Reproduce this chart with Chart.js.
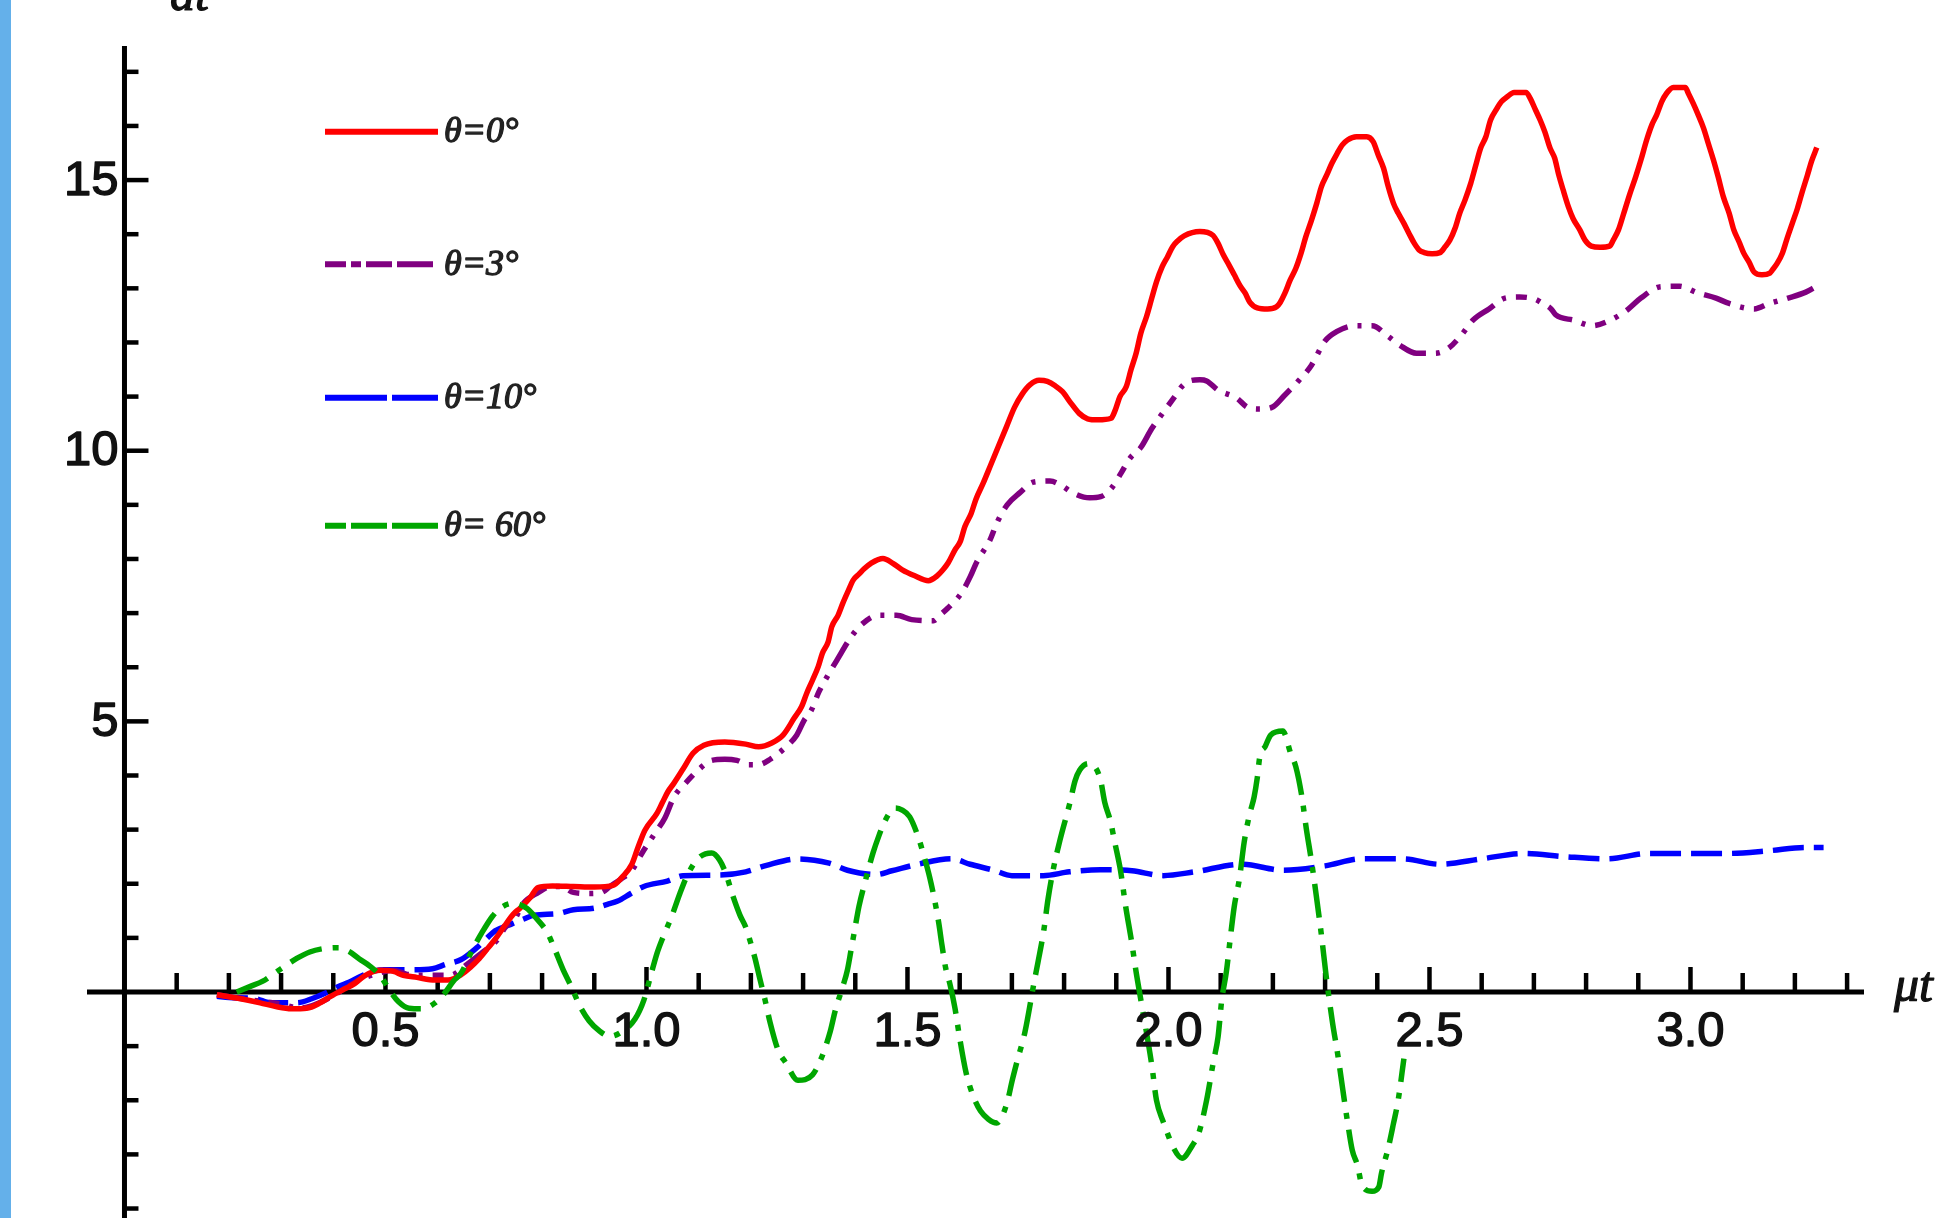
<!DOCTYPE html>
<html><head><meta charset="utf-8">
<script src="https://cdn.jsdelivr.net/npm/chart.js@4.4.1/dist/chart.umd.min.js"></script>
<style>
html,body{margin:0;padding:0;background:#fff;overflow:hidden;}
#wrap{position:relative;width:1948px;height:1218px;background:#fff;}
#band{position:absolute;left:0;top:0;width:11px;height:1218px;background:#64b0ea;}
canvas{position:absolute;left:0;top:0;}
</style></head><body>
<div id="wrap"><canvas id="c" width="1948" height="1218"></canvas><div id="band"></div></div>
<script>
// ---------- data ----------
const legendLabels = ['\u03B8=0\u00B0', '\u03B8=3\u00B0', '\u03B8=10\u00B0', '\u03B8= 60\u00B0'];
const xTickValues = [0.5, 1.0, 1.5, 2.0, 2.5, 3.0];
const xTickLabels = ['0.5', '1.0', '1.5', '2.0', '2.5', '3.0'];
const yTickValues = [5, 10, 15];
const yTickLabels = ['5', '10', '15'];
const xAxisLabel = '\u03BCt';
const yAxisLabel = 'dt';

const redT = [0.177,0.22,0.26,0.29,0.32,0.349,0.375,0.395,0.42,0.44,0.46,0.49,0.515,0.534,0.56,0.595,0.62,0.645,0.662,0.68,0.697,0.712,0.728,0.745,0.758,0.777,0.792,0.82,0.86,0.9,0.936,0.953,0.972,0.984,0.997,1.02,1.03,1.041,1.052,1.07,1.089,1.11,1.15,1.19,1.215,1.24,1.262,1.283,1.297,1.307,1.318,1.329,1.337,1.348,1.355,1.367,1.376,1.386,1.396,1.407,1.417,1.43,1.453,1.472,1.49,1.514,1.54,1.557,1.568,1.578,1.591,1.601,1.61,1.622,1.631,1.645,1.66,1.675,1.69,1.705,1.72,1.735,1.752,1.768,1.783,1.797,1.813,1.829,1.845,1.865,1.89,1.898,1.907,1.919,1.928,1.938,1.947,1.958,1.968,1.977,1.988,1.998,2.008,2.018,2.03,2.06,2.085,2.095,2.105,2.116,2.126,2.137,2.147,2.156,2.17,2.19,2.207,2.214,2.223,2.233,2.244,2.254,2.263,2.274,2.284,2.293,2.303,2.313,2.323,2.333,2.343,2.36,2.38,2.392,2.402,2.412,2.421,2.431,2.44,2.451,2.461,2.471,2.48,2.49,2.505,2.52,2.53,2.539,2.549,2.558,2.568,2.579,2.588,2.598,2.608,2.617,2.629,2.638,2.649,2.662,2.685,2.693,2.702,2.712,2.721,2.731,2.74,2.747,2.756,2.766,2.775,2.788,2.798,2.81,2.827,2.845,2.852,2.862,2.871,2.884,2.895,2.905,2.916,2.926,2.935,2.945,2.954,2.967,2.99,2.996,3.005,3.015,3.025,3.034,3.044,3.053,3.063,3.074,3.083,3.093,3.102,3.112,3.122,3.137,3.152,3.157,3.166,3.176,3.185,3.195,3.205,3.214,3.224,3.232,3.242];
const redV = [-0.05,-0.12,-0.2,-0.27,-0.31,-0.3,-0.2,-0.08,0.05,0.15,0.3,0.4,0.38,0.31,0.27,0.22,0.22,0.32,0.45,0.62,0.82,1.0,1.22,1.44,1.55,1.74,1.93,1.96,1.95,1.94,1.97,2.12,2.36,2.68,2.99,3.3,3.49,3.7,3.85,4.12,4.41,4.56,4.62,4.58,4.53,4.6,4.75,5.06,5.27,5.52,5.76,6.01,6.26,6.47,6.75,6.96,7.18,7.4,7.61,7.72,7.82,7.92,8.01,7.92,7.8,7.69,7.6,7.69,7.8,7.93,8.17,8.32,8.6,8.84,9.1,9.4,9.75,10.1,10.45,10.8,11.05,11.22,11.3,11.28,11.2,11.09,10.88,10.69,10.59,10.57,10.6,10.75,11.0,11.18,11.49,11.8,12.17,12.48,12.82,13.12,13.4,13.58,13.77,13.88,13.97,14.05,13.98,13.83,13.62,13.43,13.25,13.05,12.91,12.74,12.64,12.62,12.66,12.74,12.91,13.15,13.37,13.65,13.95,14.26,14.57,14.88,15.09,15.31,15.49,15.65,15.74,15.8,15.8,15.71,15.46,15.22,14.88,14.57,14.39,14.2,14.01,13.83,13.71,13.66,13.64,13.66,13.77,13.89,14.11,14.39,14.63,14.94,15.25,15.59,15.8,16.11,16.32,16.45,16.54,16.62,16.62,16.51,16.32,16.11,15.89,15.59,15.4,15.12,14.82,14.51,14.29,14.08,13.89,13.78,13.76,13.78,13.89,14.08,14.35,14.75,15.06,15.37,15.74,16.02,16.2,16.45,16.6,16.71,16.71,16.6,16.42,16.2,15.96,15.68,15.37,15.06,14.69,14.39,14.08,13.86,13.65,13.49,13.3,13.25,13.28,13.34,13.46,13.65,13.92,14.2,14.48,14.78,15.09,15.35,15.6];

const purpleT = [0.177,0.21,0.26,0.298,0.336,0.36,0.39,0.42,0.445,0.48,0.515,0.54,0.57,0.6,0.624,0.656,0.684,0.713,0.73,0.748,0.761,0.793,0.818,0.837,0.86,0.89,0.914,0.93,0.95,0.972,0.991,1.016,1.035,1.053,1.074,1.099,1.125,1.15,1.173,1.195,1.214,1.237,1.265,1.288,1.302,1.316,1.33,1.347,1.366,1.392,1.411,1.444,1.479,1.508,1.55,1.562,1.577,1.604,1.62,1.633,1.658,1.671,1.691,1.716,1.741,1.773,1.798,1.815,1.849,1.87,1.89,1.91,1.926,1.947,1.968,1.987,2.012,2.025,2.041,2.06,2.073,2.095,2.131,2.152,2.175,2.198,2.223,2.249,2.274,2.3,2.322,2.357,2.39,2.421,2.443,2.475,2.511,2.536,2.563,2.583,2.614,2.645,2.673,2.702,2.717,2.733,2.742,2.777,2.811,2.846,2.88,2.905,2.943,2.979,3.013,3.049,3.074,3.122,3.151,3.187,3.221,3.24];
const purpleV = [-0.05,-0.1,-0.17,-0.22,-0.3,-0.25,-0.12,0.05,0.2,0.33,0.4,0.33,0.31,0.31,0.31,0.51,0.72,0.95,1.2,1.35,1.6,1.84,1.95,1.95,1.84,1.82,1.84,1.95,2.08,2.25,2.56,2.93,3.21,3.61,3.85,4.1,4.28,4.3,4.28,4.2,4.2,4.3,4.51,4.75,5.02,5.21,5.54,5.84,6.15,6.56,6.78,6.96,6.96,6.88,6.86,6.96,7.09,7.38,7.67,7.95,8.35,8.66,9.0,9.23,9.42,9.44,9.34,9.23,9.13,9.15,9.3,9.6,9.86,10.06,10.41,10.67,11.0,11.18,11.29,11.31,11.29,11.12,10.97,10.8,10.77,10.8,11.03,11.29,11.58,12.03,12.2,12.31,12.31,12.11,11.95,11.8,11.8,11.89,12.16,12.41,12.62,12.82,12.84,12.8,12.72,12.62,12.51,12.41,12.31,12.41,12.61,12.82,13.03,13.04,12.92,12.82,12.72,12.62,12.72,12.82,12.93,13.03];

const blueT = [0.177,0.2,0.25,0.28,0.33,0.36,0.39,0.41,0.43,0.455,0.475,0.5,0.55,0.59,0.615,0.645,0.675,0.695,0.71,0.74,0.765,0.785,0.83,0.86,0.9,0.925,0.945,0.97,0.995,1.04,1.07,1.14,1.19,1.23,1.29,1.35,1.385,1.44,1.47,1.52,1.585,1.62,1.665,1.7,1.76,1.81,1.87,1.93,1.99,2.05,2.14,2.22,2.3,2.37,2.45,2.52,2.6,2.68,2.76,2.84,2.92,3.0,3.07,3.15,3.22,3.255];
const blueV = [-0.08,-0.1,-0.12,-0.2,-0.2,-0.12,0.0,0.1,0.18,0.3,0.38,0.41,0.41,0.43,0.51,0.6,0.82,1.0,1.13,1.25,1.35,1.42,1.45,1.52,1.55,1.62,1.68,1.82,1.95,2.05,2.15,2.16,2.22,2.34,2.46,2.38,2.25,2.17,2.24,2.36,2.46,2.36,2.25,2.15,2.15,2.22,2.26,2.24,2.15,2.22,2.36,2.25,2.33,2.46,2.46,2.36,2.46,2.56,2.5,2.46,2.56,2.56,2.56,2.61,2.67,2.67];

const greenT = [0.215,0.24,0.265,0.285,0.3,0.33,0.355,0.38,0.41,0.43,0.45,0.47,0.49,0.51,0.525,0.545,0.57,0.595,0.615,0.63,0.645,0.665,0.685,0.705,0.72,0.745,0.77,0.79,0.81,0.823,0.84,0.855,0.873,0.89,0.91,0.93,0.955,0.978,0.995,1.008,1.02,1.032,1.048,1.064,1.078,1.099,1.125,1.14,1.152,1.166,1.179,1.19,1.198,1.208,1.217,1.227,1.237,1.252,1.267,1.29,1.318,1.335,1.352,1.362,1.376,1.385,1.392,1.4,1.407,1.42,1.434,1.445,1.455,1.465,1.477,1.49,1.504,1.52,1.532,1.543,1.554,1.56,1.566,1.573,1.582,1.591,1.6,1.612,1.627,1.64,1.655,1.671,1.69,1.701,1.71,1.725,1.742,1.75,1.761,1.769,1.78,1.792,1.811,1.821,1.83,1.846,1.869,1.878,1.889,1.897,1.908,1.918,1.929,1.938,1.948,1.968,1.977,1.99,1.998,2.007,2.026,2.046,2.058,2.073,2.086,2.095,2.102,2.111,2.118,2.126,2.136,2.145,2.155,2.164,2.17,2.175,2.185,2.196,2.219,2.234,2.244,2.255,2.264,2.274,2.283,2.293,2.302,2.314,2.325,2.334,2.343,2.352,2.362,2.371,2.39,2.403,2.408,2.421,2.431,2.44,2.451];
const greenV = [0.0,0.1,0.2,0.33,0.43,0.62,0.74,0.8,0.82,0.75,0.61,0.48,0.3,0.0,-0.18,-0.3,-0.31,-0.2,0.0,0.2,0.35,0.75,1.1,1.4,1.55,1.64,1.55,1.35,1.1,0.82,0.42,0.12,-0.27,-0.53,-0.72,-0.82,-0.72,-0.5,-0.15,0.3,0.71,1.02,1.39,1.82,2.15,2.47,2.57,2.44,2.19,1.76,1.42,1.2,0.96,0.62,0.25,-0.14,-0.57,-1.07,-1.31,-1.63,-1.53,-1.22,-0.73,-0.33,0.1,0.41,0.78,1.21,1.58,2.08,2.57,2.88,3.12,3.3,3.4,3.36,3.24,2.88,2.5,2.1,1.6,1.27,0.87,0.45,0.12,-0.3,-0.85,-1.48,-1.95,-2.2,-2.35,-2.42,-2.07,-1.62,-1.28,-0.74,0.15,0.55,1.13,1.7,2.3,2.8,3.49,3.9,4.1,4.22,3.95,3.5,3.15,2.77,2.25,1.58,0.95,0.37,-0.2,-1.35,-2.0,-2.4,-2.61,-2.83,-3.07,-2.83,-2.61,-2.0,-1.29,-0.83,-0.15,0.38,0.96,1.58,2.1,2.77,3.27,3.6,3.95,4.35,4.53,4.75,4.82,4.41,4.16,3.64,3.02,2.41,1.79,1.05,0.3,-0.55,-1.2,-1.81,-2.4,-2.92,-3.2,-3.58,-3.68,-3.6,-3.35,-2.88,-2.43,-2.0,-1.23];

// ---------- scale extents ----------
const xMin = -0.0718, xMax = 3.3324;
const yMin = -4.175, yMax = 17.477;

const xy = (ts, vs) => ts.map((t, i) => ({x: t, y: vs[i]}));

const colors = ['#ff0000', '#800080', '#0000ff', '#00a600'];
const plotDash = [[], [28, 10, 4, 10, 11, 10, 4, 10], [31, 10], [34, 11, 6, 11]];
const legendDash = [[], [21, 5, 10, 5, 26, 5, 36, 5], [62, 5], [21, 5, 36, 5, 46, 5]];
const legendY = [131.7, 264.3, 397.7, 525.7];

function boldText(ctx, s, x, y, w) {
  ctx.lineWidth = w;
  ctx.strokeStyle = ctx.fillStyle;
  ctx.lineJoin = 'round';
  ctx.strokeText(s, x, y);
  ctx.fillText(s, x, y);
}

const axesPlugin = {
  id: 'axesPlugin',
  beforeDatasetsDraw(chart) {
    const {ctx, chartArea: a} = chart;
    const sx = chart.scales.x, sy = chart.scales.y;
    const x0 = sx.getPixelForValue(0), y0 = sy.getPixelForValue(0);
    ctx.save();
    ctx.strokeStyle = '#000';
    ctx.lineCap = 'butt';
    ctx.lineWidth = 5;
    ctx.beginPath(); ctx.moveTo(a.left, y0); ctx.lineTo(a.right, y0); ctx.stroke();
    ctx.beginPath(); ctx.moveTo(x0, a.top); ctx.lineTo(x0, a.bottom); ctx.stroke();
    ctx.lineWidth = 4.5;
    for (let k = 1; k <= 33; k++) {
      const px = sx.getPixelForValue(k / 10);
      const major = (k % 5 === 0);
      ctx.beginPath(); ctx.moveTo(px, y0 - 2); ctx.lineTo(px, y0 - (major ? 25 : 19)); ctx.stroke();
    }
    for (let k = -4; k <= 17; k++) {
      if (k === 0) continue;
      const py = sy.getPixelForValue(k);
      const major = (k % 5 === 0);
      ctx.beginPath(); ctx.moveTo(x0 + 2, py); ctx.lineTo(x0 + (major ? 24 : 14), py); ctx.stroke();
    }
    ctx.restore();
  },
  afterDraw(chart) {
    const {ctx} = chart;
    const sx = chart.scales.x, sy = chart.scales.y;
    const x0 = sx.getPixelForValue(0), y0 = sy.getPixelForValue(0);
    ctx.save();
    ctx.fillStyle = '#111';
    ctx.font = '49px "Liberation Sans", Arial, sans-serif';
    ctx.textAlign = 'center'; ctx.textBaseline = 'middle';
    xTickValues.forEach((v, i) => boldText(ctx, xTickLabels[i], sx.getPixelForValue(v), y0 + 40, 1.4));
    ctx.textAlign = 'right';
    yTickValues.forEach((v, i) => boldText(ctx, yTickLabels[i], x0 - 6, sy.getPixelForValue(v) + 1, 1.4));
    ctx.font = 'italic 50px "Liberation Serif", "DejaVu Serif", serif';
    ctx.textAlign = 'left'; ctx.textBaseline = 'alphabetic';
    boldText(ctx, xAxisLabel, 1894, 1001, 1.2);
    boldText(ctx, yAxisLabel, 170, 10, 1.2);
    for (let i = 0; i < 4; i++) {
      const ly = legendY[i];
      ctx.strokeStyle = colors[i]; ctx.lineWidth = 6; ctx.lineCap = 'butt';
      ctx.setLineDash(legendDash[i]);
      ctx.beginPath(); ctx.moveTo(325, ly); ctx.lineTo(438, ly); ctx.stroke();
      ctx.setLineDash([]);
      ctx.fillStyle = '#222';
      ctx.font = 'italic 36px "Liberation Serif", "DejaVu Serif", serif';
      ctx.textAlign = 'left'; ctx.textBaseline = 'middle';
      boldText(ctx, legendLabels[i], 444, ly + 1, 1.3);
    }
    ctx.restore();
  }
};

const series = [
  {t: redT, v: redV}, {t: purpleT, v: purpleV}, {t: blueT, v: blueV}, {t: greenT, v: greenV}
];

new Chart(document.getElementById('c'), {
  type: 'line',
  data: {
    datasets: series.map((s, i) => ({
      label: legendLabels[i],
      data: xy(s.t, s.v),
      borderColor: colors[i],
      borderWidth: 5.5,
      borderDash: plotDash[i],
      borderCapStyle: 'butt',
      pointRadius: 0,
      fill: false,
      cubicInterpolationMode: 'monotone',
      order: [2, 3, 4, 1][i]
    }))
  },
  options: {
    responsive: false,
    animation: false,
    devicePixelRatio: 1,
    layout: {padding: {left: 87, right: 84, top: 46, bottom: 0}},
    plugins: {legend: {display: false}, tooltip: {enabled: false}},
    scales: {
      x: {type: 'linear', min: xMin, max: xMax, display: false},
      y: {type: 'linear', min: yMin, max: yMax, display: false}
    }
  },
  plugins: [axesPlugin]
});
</script>
</body></html>
